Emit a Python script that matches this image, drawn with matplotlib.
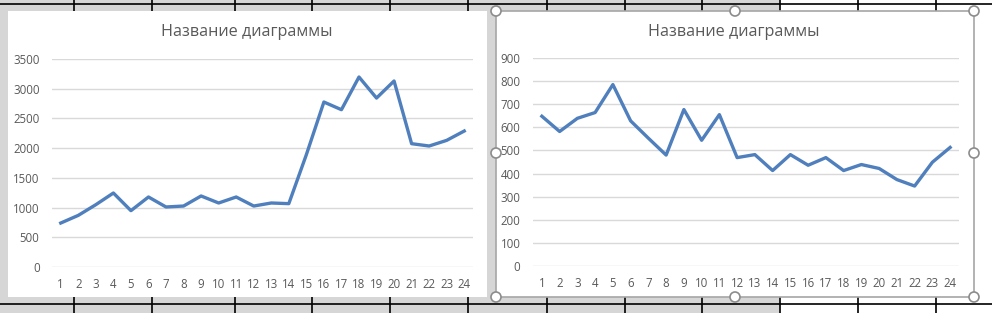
import matplotlib
matplotlib.use('Agg')
import matplotlib.pyplot as plt
from matplotlib.patches import Rectangle, Circle

plt.rcParams['font.family'] = ['Open Sans', 'DejaVu Sans']

# данные
days = list(range(1, 25))
left_values = [740, 869, 1049, 1245, 948, 1178, 1010, 1026, 1195, 1077, 1178, 1026,
               1077, 1066, 1890, 2776, 2647, 3197, 2843, 3130, 2075, 2036, 2131, 2288]
right_values = [648, 582, 639, 664, 785, 628, 553, 480, 677, 544, 655, 469,
                 482, 413, 482, 436, 469, 413, 439, 422, 374, 346, 449, 513]
left_yticks = [0, 500, 1000, 1500, 2000, 2500, 3000, 3500]
right_yticks = [0, 100, 200, 300, 400, 500, 600, 700, 800, 900]
chart_title = 'Название диаграммы'

W, H = 992, 313
LINE_COLOR = '#4f7fbc'
GRID_COLOR = '#d9d9d9'
TEXT_COLOR = '#595959'


def px_rect(x0, y0, x1, y1):
    # пиксели (от верхнего левого угла) -> доли фигуры
    return [x0 / W, 1 - y1 / H, (x1 - x0) / W, (y1 - y0) / H]


fig = plt.figure(figsize=(W / 100, H / 100), dpi=100, facecolor='#d6d6d6')

# фон "листа" Excel
bg = fig.add_axes([0, 0, 1, 1])
bg.set_xlim(0, W)
bg.set_ylim(H, 0)
bg.axis('off')
bg.add_patch(Rectangle((780, 0), W - 780, H, color='white', zorder=0))
for y in (4, 304):
    bg.plot([0, W], [y, y], color='black', lw=1.2)
for x in (74, 152, 235, 312, 390, 468, 547, 625, 702, 780, 858, 936):
    bg.plot([x, x], [0, H], color='black', lw=1.2)

# белые подложки диаграмм, у правой - рамка выделения с маркерами
bg.add_patch(Rectangle((8, 11), 479, 286, facecolor='white', edgecolor='none', zorder=3))
bg.add_patch(Rectangle((496, 11), 478, 286, facecolor='white', edgecolor='#a6a6a6', lw=1.2, zorder=3))
for cx, cy in [(496, 11), (735, 11), (974, 11), (496, 153), (974, 153), (496, 297), (735, 297), (974, 297)]:
    bg.add_patch(Circle((cx, cy), 5, facecolor='white', edgecolor='#8c8c8c', lw=1.2, zorder=4))


def draw_chart(rect, values, yticks, title_x):
    ax = fig.add_axes(rect)
    ax.patch.set_alpha(0)
    ax.plot(days, values, color=LINE_COLOR, lw=2.4, solid_joinstyle='round')
    ax.set_xlim(0.5, 24.5)
    ax.set_ylim(yticks[0], yticks[-1])
    ax.set_xticks(days)
    ax.set_yticks(yticks)
    ax.grid(axis='y', color=GRID_COLOR, lw=1)
    ax.set_axisbelow(True)
    for s in ax.spines.values():
        s.set_visible(False)
    ax.tick_params(length=0, colors=TEXT_COLOR, labelsize=8.3)
    ax.tick_params(axis='y', pad=9)
    ax.tick_params(axis='x', pad=8)
    fig.text(title_x / W, 1 - 32 / H, chart_title, ha='center', va='center',
             fontsize=11.6, color=TEXT_COLOR)
    return ax


draw_chart(px_rect(52, 59, 473, 267), left_values, left_yticks, 247)
draw_chart(px_rect(533, 58, 959, 266), right_values, right_yticks, 734)

fig.savefig('out.png', dpi=100, facecolor=fig.get_facecolor())
